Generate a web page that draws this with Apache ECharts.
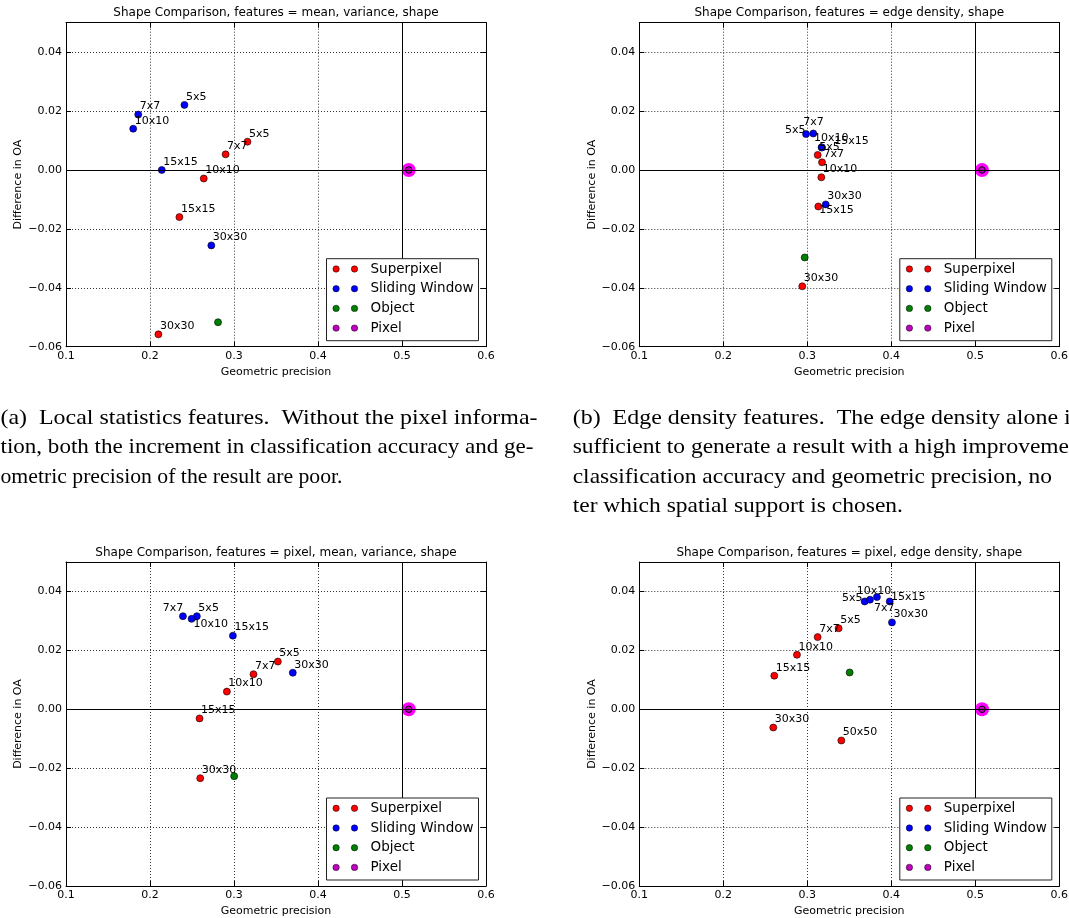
<!DOCTYPE html>
<html><head><meta charset="utf-8">
<script src="https://cdn.jsdelivr.net/npm/echarts@6/dist/echarts.min.js"></script>
<style>html,body{margin:0;padding:0;background:#fff}#c{width:1069px;height:918px}</style>
</head><body><div id="c"></div>
<script>
// ---------------- DATA ----------------
const titles = [
  'Shape Comparison, features = mean, variance, shape',
  'Shape Comparison, features = edge density, shape',
  'Shape Comparison, features = pixel, mean, variance, shape',
  'Shape Comparison, features = pixel, edge density, shape'
];
const groupNames = ['Superpixel', 'Sliding Window', 'Object', 'Pixel'];

// Panel (a)
const a_spLabels = ['5x5', '7x7', '10x10', '15x15', '30x30'];
const a_spX = [0.316, 0.290, 0.264, 0.235, 0.210];
const a_spY = [0.0096, 0.0053, -0.0029, -0.0160, -0.0558];
const a_swLabels = ['5x5', '7x7', '10x10', '15x15', '30x30'];
const a_swX = [0.241, 0.186, 0.180, 0.214, 0.273];
const a_swY = [0.0221, 0.0188, 0.0140, 0.0000, -0.0256];
const a_objX = [0.281], a_objY = [-0.0517];
const a_pxX = [0.508], a_pxY = [0.0];

// Panel (b)
const b_spLabels = ['5x5', '7x7', '10x10', '15x15', '30x30'];
const b_spX = [0.3124, 0.3175, 0.3167, 0.3131, 0.2940];
const b_spY = [0.0051, 0.0026, -0.0025, -0.0124, -0.0395];
const b_swLabels = ['5x5', '7x7', '10x10', '15x15', '30x30'];
const b_swX = [0.2985, 0.3071, 0.3170, 0.3175, 0.3219];
const b_swY = [0.0122, 0.0124, 0.0077, 0.0076, -0.0117];
const b_objX = [0.2969], b_objY = [-0.0297];
const b_pxX = [0.508], b_pxY = [0.0];

// Panel (c)
const c_spLabels = ['5x5', '7x7', '10x10', '15x15', '30x30'];
const c_spX = [0.3522, 0.3232, 0.2915, 0.2590, 0.2598];
const c_spY = [0.0162, 0.0119, 0.0060, -0.0031, -0.0234];
const c_swLabels = ['5x5', '7x7', '10x10', '15x15', '30x30'];
const c_swX = [0.2558, 0.2392, 0.2495, 0.2987, 0.3700];
const c_swY = [0.0316, 0.0316, 0.0307, 0.0250, 0.0124];
const c_objX = [0.3002], c_objY = [-0.0227];
const c_pxX = [0.508], c_pxY = [0.0];

// Panel (d)
const d_spLabels = ['5x5', '7x7', '10x10', '15x15', '30x30', '50x50'];
const d_spX = [0.3373, 0.3123, 0.2877, 0.2607, 0.2595, 0.3405];
const d_spY = [0.0275, 0.0245, 0.0185, 0.0114, -0.0062, -0.0106];
const d_swLabels = ['5x5', '7x7', '10x10', '15x15', '30x30'];
const d_swX = [0.3683, 0.3746, 0.3829, 0.3981, 0.4008];
const d_swY = [0.0366, 0.0372, 0.0381, 0.0366, 0.0295];
const d_objX = [0.3504], d_objY = [0.0125];
const d_pxX = [0.508], d_pxY = [0.0];

const xTickStep = 0.1, yTickStep = 0.02;

const captionA = [
  '(a)  Local statistics features.  Without the pixel informa-',
  'tion, both the increment in classification accuracy and ge-',
  'ometric precision of the result are poor.'
];
const captionB = [
  '(b)  Edge density features.  The edge density alone is',
  'sufficient to generate a result with a high improvement in',
  'classification accuracy and geometric precision, no',
  'mat-',
  'ter which spatial support is chosen.'
];

// ---------------- STYLE / LAYOUT ----------------
const panels = [
  {sp:[a_spLabels,a_spX,a_spY], sw:[a_swLabels,a_swX,a_swY], obj:[a_objX,a_objY], px:[a_pxX,a_pxY]},
  {sp:[b_spLabels,b_spX,b_spY], sw:[b_swLabels,b_swX,b_swY], obj:[b_objX,b_objY], px:[b_pxX,b_pxY]},
  {sp:[c_spLabels,c_spX,c_spY], sw:[c_swLabels,c_swX,c_swY], obj:[c_objX,c_objY], px:[c_pxX,c_pxY]},
  {sp:[d_spLabels,d_spX,d_spY], sw:[d_swLabels,d_swX,d_swY], obj:[d_objX,d_objY], px:[d_pxX,d_pxY]}
];
// label placement tweaks (pixels), default is up-right of the marker
const defaultOffset = [1.5, -8];
const labelOffsets = [
  {},
  {'sp:15x15':[1,4], 'sw:5x5':[-21,-4], 'sw:7x7':[-10,-11], 'sw:10x10':[-7.7,-8.7], 'sw:15x15':[12.3,-6.7]},
  {'sw:7x7':[-20.3,-7.7], 'sw:10x10':[2,5.7]},
  {'sw:5x5':[-22.7,-3], 'sw:7x7':[4,8.6], 'sw:10x10':[-20.3,-6.3], 'sw:15x15':[1.3,-4.6]}
];
const grids = [
  {left:66, top:22.7}, {left:639.3, top:22.7}, {left:66, top:562}, {left:639.3, top:562}
];
const GW = 420, GH = 324;
const colors = {sp:'#ff0000', sw:'#0000ff', obj:'#008000', px:'#bf00bf', halo:'#ff00ff'};
const FONT = 'DejaVu Sans';

function fmtY(v){
  const r = Math.round(v*100)/100;
  if (r > 0.045) return '';
  if (Math.abs(r) < 1e-9) return '0.00';
  return (r < 0 ? '\u2212' : '') + Math.abs(r).toFixed(2);
}

const option = {
  backgroundColor:'#fff',
  animation:false,
  grid:[], xAxis:[], yAxis:[], series:[], graphic:[]
};

grids.forEach((g, i) => {
  option.grid.push({left:g.left, top:g.top, width:GW, height:GH, outerBoundsMode:'none', containLabel:false});
  const axisLine = {show:true, onZero:false, lineStyle:{color:'#000', width:1}};
  const tick = {show:true, inside:true, length:5, lineStyle:{color:'#000', width:1}};
  const split = {show:true, lineStyle:{color:'#000', width:0.8, type:[1,2]}};
  const nameStyle = {fontSize:11, fontFamily:FONT, color:'#000'};
  option.xAxis.push({
    gridIndex:i, type:'value', position:'bottom', min:0.1, max:0.6, interval:xTickStep,
    axisLine, axisTick:tick, splitLine:split,
    axisLabel:{margin:4, fontSize:11, fontFamily:FONT, color:'#000', formatter:v=>v.toFixed(1)},
    name:'Geometric precision', nameLocation:'middle', nameGap:20, nameMoveOverlap:false, nameTextStyle:nameStyle
  });
  option.xAxis.push({
    gridIndex:i, type:'value', position:'top', min:0.1, max:0.6, interval:xTickStep,
    axisLine, axisTick:tick, splitLine:{show:false}, axisLabel:{show:false}
  });
  option.yAxis.push({
    gridIndex:i, type:'value', position:'left', min:-0.06, max:0.05, interval:yTickStep,
    axisLine, axisTick:tick, splitLine:split,
    axisLabel:{margin:4, fontSize:11, fontFamily:FONT, color:'#000', formatter:fmtY, showMaxLabel:false},
    name:'Difference in OA', nameLocation:'middle', nameGap:42, nameMoveOverlap:false, nameTextStyle:nameStyle
  });
  option.yAxis.push({
    gridIndex:i, type:'value', position:'right', min:-0.06, max:0.05, interval:yTickStep,
    axisLine, axisTick:tick, splitLine:{show:false}, axisLabel:{show:false}
  });

  const p = panels[i];
  const xi = i*2, yi = i*2;
  const mkLabeled = (key, arr) => arr[0].map((lbl, k) => {
    const off = labelOffsets[i][key+':'+lbl] || defaultOffset;
    return {name:lbl, value:[arr[1][k], arr[2][k]], label:{offset:off}};
  });
  const labelCfg = {show:true, position:'inside', align:'left', verticalAlign:'middle', formatter:'{b}',
    color:'#000', fontSize:11, fontFamily:FONT, textBorderWidth:0, opacity:1};
  const base = {type:'scatter', xAxisIndex:xi, yAxisIndex:yi, symbol:'circle', silent:true,
    emphasis:{disabled:true}};
  option.series.push(Object.assign({}, base, {
    name:groupNames[0], symbolSize:7, data:mkLabeled('sp', p.sp), label:labelCfg,
    itemStyle:{color:colors.sp, borderColor:'#000', borderWidth:0.6, opacity:1}
  }));
  option.series.push(Object.assign({}, base, {
    name:groupNames[1], symbolSize:7, data:mkLabeled('sw', p.sw), label:labelCfg,
    itemStyle:{color:colors.sw, borderColor:'#000', borderWidth:0.6, opacity:1}
  }));
  option.series.push(Object.assign({}, base, {
    name:groupNames[2], symbolSize:7, data:p.obj[0].map((x,k)=>[x, p.obj[1][k]]),
    itemStyle:{color:colors.obj, borderColor:'#000', borderWidth:0.6, opacity:1}
  }));
  option.series.push(Object.assign({}, base, {
    name:groupNames[3]+' halo', symbolSize:14, data:p.px[0].map((x,k)=>[x, p.px[1][k]]),
    itemStyle:{color:colors.halo, borderWidth:0, opacity:1}
  }));
  option.series.push(Object.assign({}, base, {
    name:groupNames[3], symbolSize:6.5, data:p.px[0].map((x,k)=>[x, p.px[1][k]]),
    itemStyle:{color:colors.px, borderColor:'#000', borderWidth:1, opacity:1}
  }));
  // reference lines y=0 and x=0.5
  option.series.push(Object.assign({}, base, {
    name:'ref', data:[],
    markLine:{silent:true, symbol:'none', animation:false, label:{show:false},
      lineStyle:{color:'#000', type:'solid', width:1, opacity:1},
      emphasis:{disabled:true},
      data:[{yAxis:0}, {xAxis:0.5}]}
  }));

  // title
  option.graphic.push({type:'text', x:g.left+GW/2, y:g.top-9.5, z:10,
    style:{text:titles[i], fontSize:12, fontFamily:FONT, fill:'#000', align:'center', verticalAlign:'middle'}});

  // legend box
  const bw = 152, bh = 82;
  const bx = g.left + GW - 7.5 - bw, by = g.top + GH - 6 - bh;
  const lg = [{type:'rect', shape:{x:bx, y:by, width:bw, height:bh}, z:20,
    style:{fill:'#fff', stroke:'#222', lineWidth:1}}];
  const lc = [colors.sp, colors.sw, colors.obj, colors.px];
  groupNames.forEach((nm, r) => {
    const ry = by + 10.3 + r*19.7;
    [9.6, 28].forEach(dx => lg.push({type:'circle', shape:{cx:bx+dx, cy:ry, r:3.2}, z:21,
      style:{fill:lc[r], stroke:'#000', lineWidth:0.5}}));
    lg.push({type:'text', x:bx+44, y:ry, z:21,
      style:{text:nm, fontSize:13.5, fontFamily:FONT, fill:'#000', verticalAlign:'middle'}});
  });
  lg.forEach(e => option.graphic.push(e));
});

// captions: each line scaled so a known (visible) prefix spans its measured width
const mctx = document.createElement('canvas').getContext('2d');
const CSIZE = 22, CFAM = 'Liberation Serif';
function tw(s){ mctx.font = CSIZE + 'px "' + CFAM + '"'; return mctx.measureText(s).width; }
function captionLine(text, x, y, targetW, prefix){
  const s = targetW / tw(prefix || text);
  option.graphic.push({type:'text', x:x, y:y, scaleX:s, z:5,
    style:{text:text, fontSize:CSIZE, fontFamily:CFAM, fill:'#000', verticalAlign:'middle'}});
  return s;
}
const COLW = 537, BX = 572.7;
captionLine(captionA[0], 0.5, 418.3, COLW);
captionLine(captionA[1], 0.5, 447.7, COLW - 4);
captionLine(captionA[2], 0.5, 477.1, 342);
captionLine(captionB[0], BX, 418.3, 1064 - BX, '(b)  Edge density features.  The edge density alone ');
captionLine(captionB[1], BX, 447.7, 1069 - BX, 'sufficient to generate a result with a high improveme');
const s3 = captionLine(captionB[2], BX, 477.1, 1052 - BX);
// hyphenated word at the (cropped) end of the justified line
option.graphic.push({type:'text', x:1072, y:477.1, scaleX:s3, z:5,
  style:{text:captionB[3], fontSize:CSIZE, fontFamily:CFAM, fill:'#000', verticalAlign:'middle', align:'left'}});
captionLine(captionB[4], BX, 506.5, 330.3);

const chart = echarts.init(document.getElementById('c'), null, {renderer:'canvas'});
chart.setOption(option);
</script></body></html>
